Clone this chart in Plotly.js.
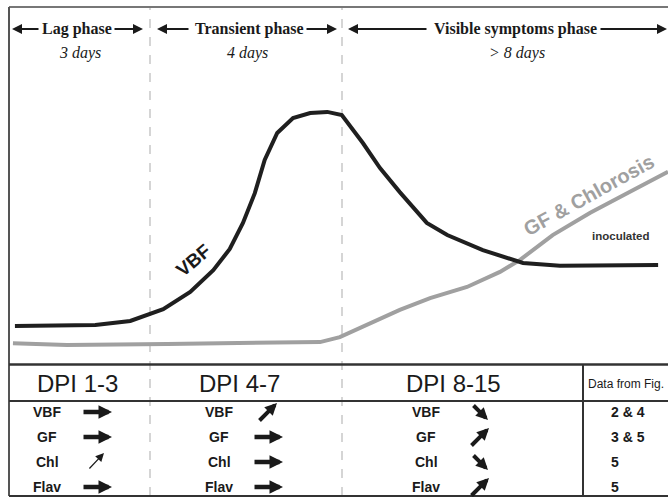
<!DOCTYPE html>
<html><head><meta charset="utf-8">
<script src="https://cdn.plot.ly/plotly-3.0.1.min.js"></script>
<style>html,body{margin:0;padding:0;background:#fff}#chart{width:668px;height:498px}</style>
</head><body><div id="chart"></div>
<script>
// Curves: x = relative time across the frame (0-100), y = relative level (0-100)
const vbfX = [0.9,13.1,18.4,23.4,27.5,31.0,33.5,35.5,37.3,38.8,40.7,43.1,45.7,48.3,50.5,53.7,56.3,59.3,63.4,66.5,71.9,78.0,83.6,98.5];
const vbfY = [10.9,11.2,12.3,15.6,20.4,26.5,32.4,39.7,48.0,57.3,64.8,69.0,70.4,70.7,69.8,62.0,55.0,48.3,39.7,36.3,32.1,28.5,27.7,27.9];
const gfX = [0.6,8.8,24.0,39.2,47.2,50.2,53.3,59.3,63.9,69.5,74.5,77.5,82.5,88.2,93.8,100];
const gfY = [6.1,5.6,5.9,6.1,6.4,7.8,10.3,15.4,18.7,21.8,26.0,29.3,36.3,42.5,48.0,54.0];

const phases = ['Lag phase','Transient phase','Visible symptoms phase'];
const phaseDurations = ['3 days','4 days','> 8 days'];
const dpiHeaders = ['DPI 1-3','DPI 4-7','DPI 8-15'];
const dataHeader = 'Data from Fig.';
const variables = ['VBF','GF','Chl','Flav'];
const trendDPI13 = ['flat','flat','up-thin','flat'];
const trendDPI47 = ['up','flat','flat','flat'];
const trendDPI815 = ['down','up','down','up'];
const dataFromFig = ['2 & 4','3 & 5','5','5'];

// ---- layout helpers (pixel frame) ----
const L=9, R=668, T=7, B=496;
const px2x = p => (p - L)/(R - L)*100;
const py2p = p => (B - p)/(B - T);
const SANS = 'Liberation Sans, Arial, sans-serif';
const SERIF = 'Liberation Serif, Times New Roman, serif';

const ann = [];
function txt(px, py, text, font, extra){
  ann.push(Object.assign({xref:'x', yref:'paper', x:px2x(px), y:py2p(py), text:text, showarrow:false, font:font, xanchor:'center', yanchor:'middle'}, extra||{}));
}
function arrow(hx, hy, dx, dy, w, s, head, color){
  ann.push({xref:'x', yref:'paper', x:px2x(hx), y:py2p(hy), ax:dx, ay:dy, text:'', showarrow:true,
    arrowhead:head||2, arrowwidth:w, arrowsize:s, arrowcolor:color||'#1a1a1a', standoff:0, startstandoff:0});
}

// top phase header
const phaseCx = [77, 249, 515];
phases.forEach((p,i)=> txt(phaseCx[i], 29, '<b>'+p+'</b>', {family:SERIF, size:16, color:'#1a1a1a'}));
const durCx = [80, 247, 517];
phaseDurations.forEach((d,i)=> txt(durCx[i], 53, '<i>'+d.replace('>','&gt;')+'</i>', {family:SERIF, size:16, color:'#1a1a1a'}));
const phaseArrows = [[12,28],[143,-30],[157,33],[337,-32],[348,80],[667,-68]];
phaseArrows.forEach(a=> arrow(a[0], 29, a[1], 0, 2, 1.0, 2, '#1a1a1a'));

// curve labels
ann.push({xref:'x', yref:'y', x:px2x(193), y:(365-260)/3.58, text:'<b>VBF</b>', showarrow:false, textangle:-40,
  font:{family:SANS, size:19, color:'#1a1a1a'}});
ann.push({xref:'x', yref:'y', x:px2x(589), y:(365-195)/3.58, text:'<b>GF &amp; Chlorosis</b>', showarrow:false, textangle:-29,
  font:{family:SANS, size:20, color:'#a0a0a0'}});
ann.push({xref:'x', yref:'y', x:px2x(621), y:(365-236)/3.58, text:'<b>inoculated</b>', showarrow:false,
  font:{family:SANS, size:11.5, color:'#333'}});

// table headers
const dpiCx = [77, 239, 453];
dpiHeaders.forEach((h,i)=> txt(dpiCx[i], 383, h, {family:SANS, size:24, color:'#1a1a1a'}));
txt(626, 384, dataHeader, {family:SANS, size:12, color:'#1a1a1a'});

// table rows
const rowY = [412, 437, 462, 487];
const labelCx = [47, 219, 426];
const arrowCx = [97, 268, 480];
const trends = [trendDPI13, trendDPI47, trendDPI815];
trends.forEach((col, c)=>{
  col.forEach((t, r)=>{
    txt(labelCx[c], rowY[r], '<b>'+variables[r]+'</b>', {family:SANS, size:14, color:'#1a1a1a'});
    const cx = arrowCx[c], cy = rowY[r];
    if (t==='flat') arrow(cx+15, cy, -30, 0, 4.5, 0.6, 2);
    else if (t==='up') arrow(cx+9, cy-9, -19, 19, 4, 0.6, 2);
    else if (t==='down') arrow(cx+8, cy+8, -16, -16, 4, 0.6, 2);
    else if (t==='up-thin') arrow(cx+7, cy-9, -16, 17, 1.2, 1.4, 2);
  });
});
dataFromFig.forEach((d,r)=> txt(609, rowY[r], '<b>'+d.replace('&','&amp;')+'</b>', {family:SANS, size:14, color:'#1a1a1a'}, {xanchor:'left'}));

// structural lines
const shapes = [
  {type:'line', xref:'paper', yref:'paper', x0:0, x1:1, y0:1, y1:1, line:{color:'#777', width:2}},
  {type:'line', xref:'paper', yref:'paper', x0:0, x1:0, y0:0, y1:1, line:{color:'#555', width:2}},
  {type:'line', xref:'paper', yref:'paper', x0:0, x1:1, y0:0, y1:0, line:{color:'#333', width:2}},
  {type:'line', xref:'paper', yref:'paper', x0:0, x1:1, y0:py2p(364.5), y1:py2p(364.5), line:{color:'#333', width:2.5}},
  {type:'line', xref:'paper', yref:'paper', x0:0, x1:1, y0:py2p(401), y1:py2p(401), line:{color:'#333', width:2}},
  {type:'line', xref:'x', yref:'paper', x0:px2x(583), x1:px2x(583), y0:0, y1:py2p(364.5), line:{color:'#333', width:2}},
  {type:'line', xref:'x', yref:'paper', x0:px2x(150), x1:px2x(150), y0:0, y1:1, line:{color:'#c8c8c8', width:1.5, dash:'dash'}, layer:'below'},
  {type:'line', xref:'x', yref:'paper', x0:px2x(342), x1:px2x(342), y0:0, y1:1, line:{color:'#c8c8c8', width:1.5, dash:'dash'}, layer:'below'}
];

const traces = [
  {x:gfX, y:gfY, mode:'lines', line:{color:'#a0a0a0', width:4}, name:'GF & Chlorosis', hoverinfo:'skip'},
  {x:vbfX, y:vbfY, mode:'lines', line:{color:'#1f1f1f', width:4}, name:'VBF', hoverinfo:'skip'}
];

const layout = {
  width:668, height:498,
  margin:{l:L, r:0, t:T, b:498-B, pad:0},
  paper_bgcolor:'#fff', plot_bgcolor:'#fff',
  showlegend:false,
  xaxis:{range:[0,100], showgrid:false, zeroline:false, showticklabels:false, showline:false, ticks:''},
  yaxis:{range:[0,100], domain:[py2p(365),1], showgrid:false, zeroline:false, showticklabels:false, showline:false, ticks:''},
  annotations:ann,
  shapes:shapes
};
Plotly.newPlot('chart', traces, layout, {staticPlot:true, displayModeBar:false});
</script>
</body></html>
